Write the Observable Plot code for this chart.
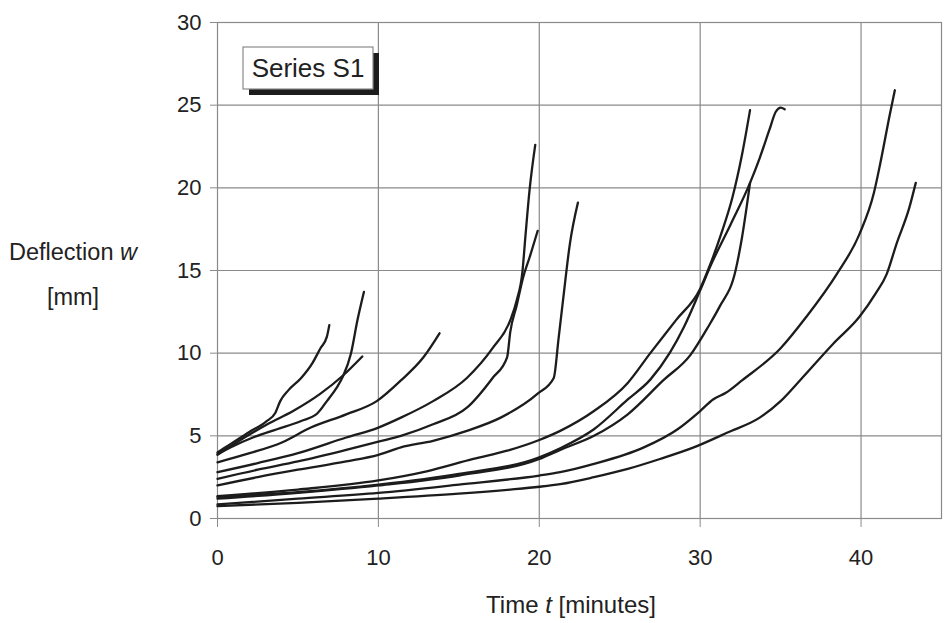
<!DOCTYPE html>
<html>
<head>
<meta charset="utf-8">
<script src="https://cdn.jsdelivr.net/npm/d3@7"></script>
<script src="https://cdn.jsdelivr.net/npm/@observablehq/plot@0.6"></script>
<style>
  html, body { margin: 0; padding: 0; background: #fff; }
  #chart { width: 944px; height: 623px; }
</style>
</head>
<body>
<div id="chart"></div>
<script>
// ---- data: [time t (min), deflection w (mm)] ----
const curveA = [[0,4.0],[0.8,4.5],[2.0,5.25],[3.0,5.85],[3.6,6.4],[3.9,7.1],[4.4,7.75],[5.2,8.5],[5.9,9.4],[6.4,10.3],[6.8,11.0],[6.95,11.7]];
const curveB = [[0,3.9],[0.8,4.3],[2.2,4.9],[3.7,5.4],[5.2,5.9],[6.2,6.35],[6.8,7.1],[7.4,7.9],[7.8,8.6],[8.3,10.0],[8.7,12.0],[9.1,13.7]];
const curveC = [[0,3.85],[1.6,4.85],[3.1,5.7],[4.7,6.5],[6.4,7.55],[7.8,8.65],[9.0,9.8]];
const curveD = [[0,3.4],[2,3.95],[4,4.6],[5.8,5.5],[8,6.3],[9.9,7.1],[11.4,8.35],[12.8,9.75],[13.8,11.2]];
const curveE = [[0,2.8],[2.5,3.35],[5,3.95],[8,4.9],[10,5.5],[11.4,6.1],[13.4,7.1],[15.5,8.5],[17.1,10.3],[18.2,12.0],[18.6,13.2],[18.95,14.9],[19.15,17.2],[19.4,19.9],[19.75,22.6]];
const curveF = [[0,2.4],[2.5,2.95],[5,3.45],[8,4.15],[10,4.65],[11.4,5.0],[13.4,5.7],[15.5,6.7],[17.1,8.5],[18.0,9.75],[18.2,11.3],[18.6,12.9],[19.0,14.6],[19.4,15.8],[19.9,17.4]];
const curveG = [[0,2.0],[2.5,2.5],[5,2.95],[8,3.45],[10,3.85],[11.4,4.3],[13.4,4.7],[15.5,5.3],[17.6,6.1],[19.9,7.55],[20.9,8.5],[21.2,10.9],[21.5,13.4],[21.9,16.6],[22.4,19.1]];
const curveH = [[0,1.35],[5,1.75],[10,2.3],[13,2.85],[15.9,3.6],[18,4.1],[20,4.75],[21.3,5.3],[23.4,6.5],[25.5,8.2],[26.9,10.0],[28.5,12.0],[30.0,13.9],[30.6,15.3],[31.3,17.2],[32.0,19.4],[32.6,22.0],[33.1,24.7]];
const curveI = [[0,1.3],[5,1.6],[10,2.05],[15,2.7],[20,3.7],[21.3,4.25],[23.4,5.4],[25.5,7.2],[26.9,8.4],[28.1,10.0],[29.0,11.6],[30.0,13.8],[30.7,15.4],[31.9,17.8],[33.1,20.3],[33.7,21.8],[34.3,23.5],[34.7,24.6],[35.0,24.85],[35.25,24.75]];
const curveJ = [[0,1.2],[5,1.55],[10,2.0],[15,2.6],[20,3.6],[21.3,4.15],[23.4,5.0],[25.5,6.3],[27.7,8.35],[29.4,9.9],[30.5,11.6],[31.2,12.8],[32.2,15.0],[32.6,17.0],[33.1,20.3]];
const curveK = [[0,0.85],[5,1.2],[10,1.55],[15,2.05],[20,2.6],[21.3,2.8],[23.4,3.3],[26.5,4.3],[28.6,5.4],[30.0,6.5],[30.8,7.2],[31.6,7.6],[32.6,8.35],[35.0,10.3],[36.6,12.2],[38.5,14.8],[39.9,17.2],[40.8,19.7],[41.2,21.5],[41.8,24.5],[42.1,25.9]];
const curveL = [[0,0.75],[5,0.95],[10,1.2],[15,1.5],[18.2,1.75],[20,1.92],[21.3,2.08],[23.4,2.5],[25.5,3.0],[27.5,3.6],[29.6,4.3],[31.7,5.2],[33.7,6.1],[35.0,7.1],[36.2,8.35],[38.3,10.6],[39.9,12.2],[40.9,13.6],[41.6,14.8],[42.2,16.6],[43.0,18.8],[43.4,20.3]];

const curveNames = ["A","B","C","D","E","F","G","H","I","J","K","L"];
const curves = [curveA,curveB,curveC,curveD,curveE,curveF,curveG,curveH,curveI,curveJ,curveK,curveL];

const xTicks = [0, 10, 20, 30, 40];
const yTicks = [0, 5, 10, 15, 20, 25, 30];
const xGrid = [10, 20, 30, 40];
const yGrid = [5, 10, 15, 20, 25];
const xDomain = [0, 45];
const yDomain = [0, 30];

const legendText = "Series S1";
const yLabel1 = ["Deflection ", "w"];
const yLabel2 = "[mm]";
const xLabel = ["Time ", "t", " [minutes]"];

// ---- table for Plot ----
const rows = [];
curves.forEach((c, i) => c.forEach(([t, w]) => rows.push({series: curveNames[i], t, w})));

const W = 944, H = 623;
const mL = 217, mR = 3, mT = 22, mB = 105;
const font = "'Liberation Sans', Arial, Helvetica, sans-serif";

const chart = Plot.plot({
  width: W, height: H,
  marginLeft: mL, marginRight: mR, marginTop: mT, marginBottom: mB,
  x: {domain: xDomain},
  y: {domain: yDomain},
  style: {fontFamily: font, fontSize: "22px", color: "#222", background: "#fff"},
  marks: [
    Plot.gridX(xGrid, {stroke: "#8a8a8a", strokeOpacity: 1, strokeWidth: 1.2}),
    Plot.gridY(yGrid, {stroke: "#8a8a8a", strokeOpacity: 1, strokeWidth: 1.2}),
    Plot.frame({stroke: "#8a8a8a", strokeWidth: 1.2}),
    Plot.axisX(xTicks, {tickSize: 9, tickPadding: 22, label: null, stroke: "#8a8a8a", fill: "#222", fontSize: 22}),
    Plot.axisY(yTicks, {tickSize: 7, tickPadding: 9, label: null, stroke: "#8a8a8a", fill: "#222", fontSize: 22}),
    Plot.line(rows, {x: "t", y: "w", z: "series", stroke: "#1c1c1c", strokeWidth: 2.3, curve: "monotone-x", strokeLinejoin: "round", strokeLinecap: "round"})
  ]
});

document.getElementById("chart").appendChild(chart);

// ---- axis titles & legend box (real SVG text) ----
const svg = d3.select(chart);

function addText(parts, x, y, italicIdx, size) {
  const t = svg.append("text")
    .attr("x", x).attr("y", y)
    .attr("text-anchor", "middle")
    .attr("font-family", font)
    .attr("font-size", size)
    .attr("fill", "#222");
  parts.forEach((p, i) => {
    t.append("tspan").attr("font-style", italicIdx.includes(i) ? "italic" : "normal").text(p);
  });
  return t;
}

addText(yLabel1, 73, 260, [1], 23.5);
addText([yLabel2], 73, 305, [], 23.5);
addText(xLabel, 571, 613, [1], 24);

// legend box with drop shadow
const bx = mL + 26, by = mT + 25, bw = 130, bh = 42;
svg.append("rect").attr("x", bx + 6).attr("y", by + 6).attr("width", bw).attr("height", bh).attr("fill", "#1c1c1c");
svg.append("rect").attr("x", bx).attr("y", by).attr("width", bw).attr("height", bh).attr("fill", "#fff").attr("stroke", "#8a8a8a").attr("stroke-width", 1.2);
svg.append("text").attr("x", bx + bw / 2).attr("y", by + 30)
  .attr("text-anchor", "middle").attr("font-family", font).attr("font-size", 26).attr("fill", "#222")
  .text(legendText);
</script>
</body>
</html>
